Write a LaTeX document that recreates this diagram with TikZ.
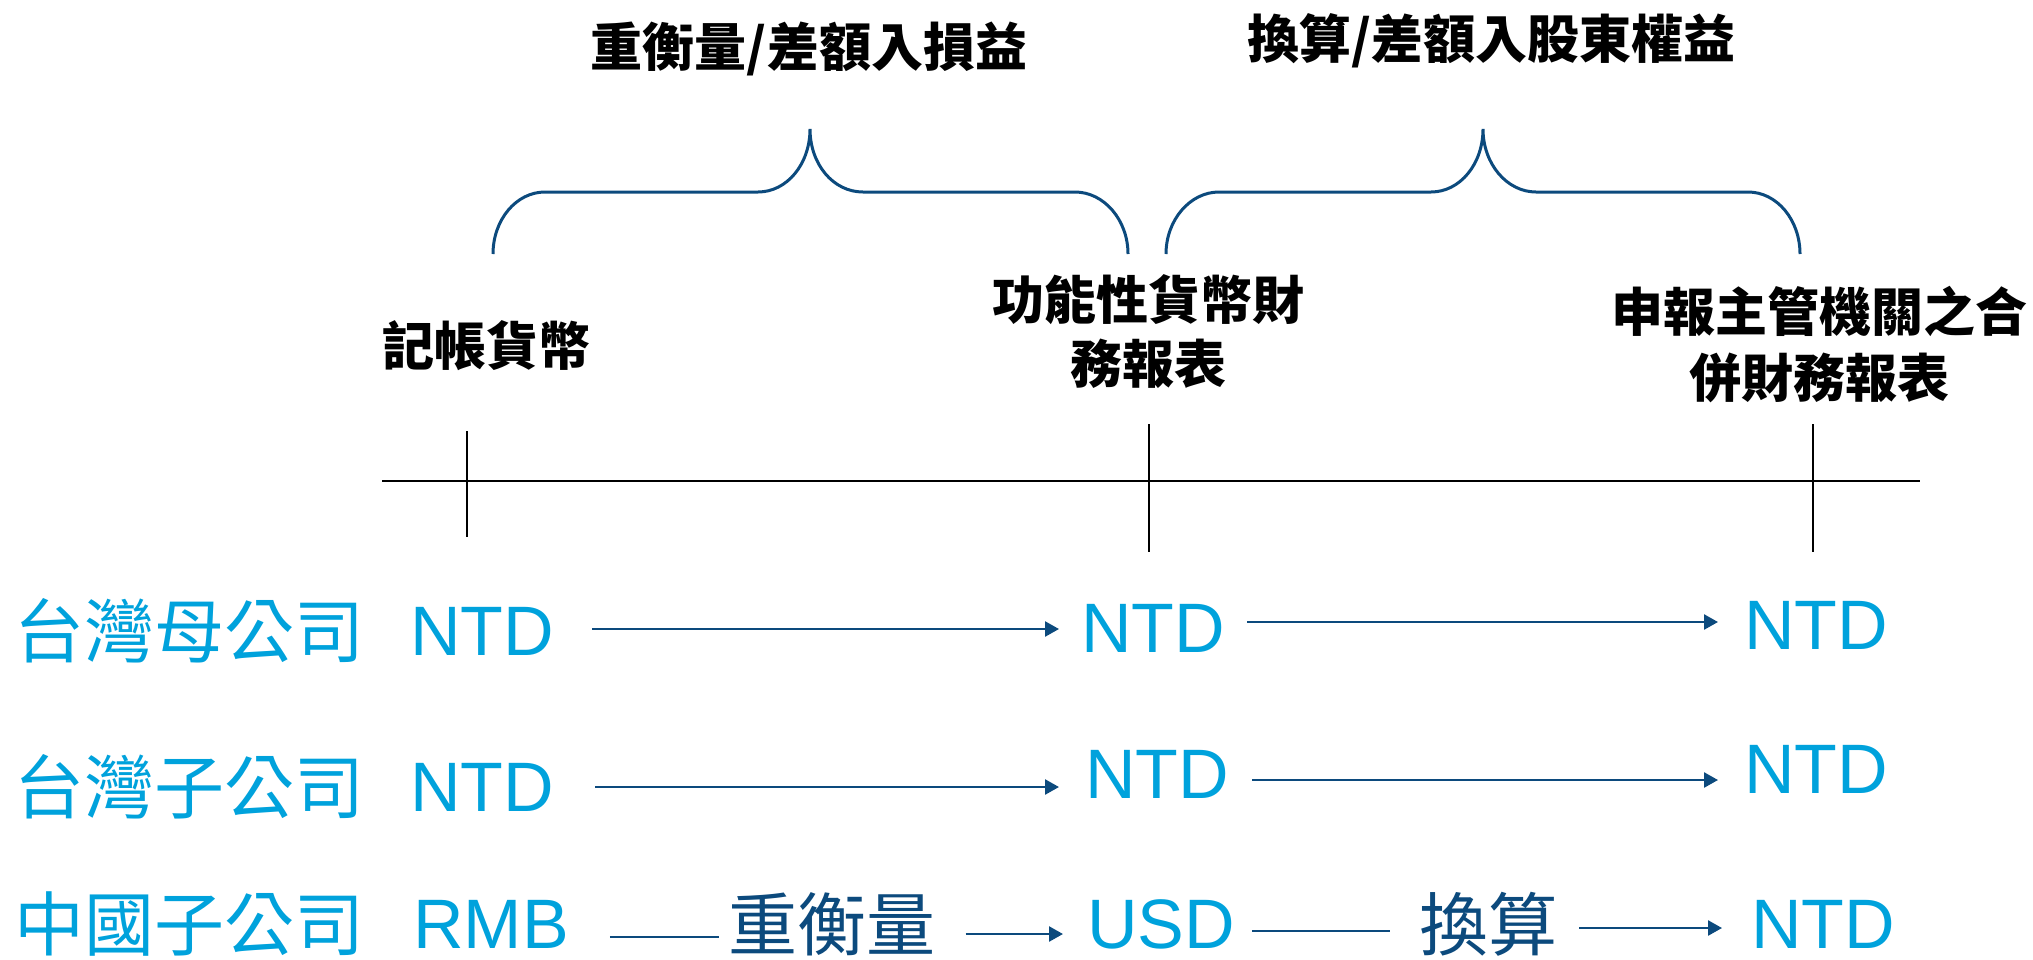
\documentclass[tikz,border=0pt]{standalone}
\usepackage{fontspec}
\usetikzlibrary{arrows.meta}
\setmainfont{Liberation Sans}
\newfontfamily\cjk{Noto Sans CJK TC}
\definecolor{lblue}{RGB}{0,162,220}
\definecolor{dblue}{RGB}{12,74,125}
\tikzset{
  head/.style={inner sep=0pt, font=\cjk\bfseries\fontsize{52}{64}\selectfont, text=black, align=center},
  comp/.style={inner sep=0pt, anchor=west, font=\cjk\fontsize{70}{80}\selectfont, text=lblue},
  cur/.style={inner sep=0pt, anchor=west, font=\fontsize{70}{80}\selectfont, text=lblue},
  op/.style={inner sep=0pt, font=\cjk\fontsize{69}{80}\selectfont, text=dblue},
  arr/.style={draw=dblue, line width=2.5pt, -{Triangle[length=14pt,width=15pt]}},
  plain/.style={draw=dblue, line width=2.5pt},
  brace/.style={draw=dblue, line width=3pt},
  axis/.style={draw=black, line width=2pt}
}
\begin{document}
\begin{tikzpicture}[x=1pt,y=-1pt]
\useasboundingbox (0,0) rectangle (2033,959);
% titles
\node[head] (t1) at (809,49) {重衡量/差額入損益};
\node[head] (t2) at (1491,41) {換算/差額入股東權益};
% braces
\draw[brace] (493,254) .. controls (493,220) and (516,192) .. (545,192) -- (758,192)
  .. controls (787,192) and (810,164) .. (810,129)
  .. controls (810,164) and (833,192) .. (863,192) -- (1075,192)
  .. controls (1104,192) and (1128,220) .. (1128,254);
\draw[brace] (1166,254) .. controls (1166,220) and (1190,192) .. (1219,192) -- (1431,192)
  .. controls (1460,192) and (1483,164) .. (1483,129)
  .. controls (1483,164) and (1507,192) .. (1536,192) -- (1748,192)
  .. controls (1777,192) and (1800,220) .. (1800,254);
% column headers
\node[head] (h1) at (486,346) {記帳貨幣};
\node[head] (h2) at (1148,332) {功能性貨幣財\\務報表};
\node[head, font=\cjk\bfseries\fontsize{52}{66}\selectfont] (h3) at (1819,345) {申報主管機關之合\\併財務報表};
% timeline
\coordinate (axl) at (382,481);
\coordinate (axr) at (1920,481);
\draw[axis] (axl) -- (axr);
\coordinate (k1a) at (467,431); \coordinate (k1b) at (467,537);
\coordinate (k2a) at (1149,424); \coordinate (k2b) at (1149,552);
\coordinate (k3a) at (1813,424); \coordinate (k3b) at (1813,552);
\draw[axis] (k1a) -- (k1b);
\draw[axis] (k2a) -- (k2b);
\draw[axis] (k3a) -- (k3b);
% row 1
\node[comp] (c1) at (14,631) {台灣母公司};
\node[cur] (r11) at (410,631) {NTD};
\node[cur] (r12) at (1081,628) {NTD};
\node[cur] (r13) at (1744,625) {NTD};
\draw[arr] ([xshift=38pt,yshift=2pt]r11.east) -- ([xshift=-22pt,yshift=2pt]r11.east -| r12.west);
\draw[arr] ([xshift=22pt,yshift=6pt]r12.east) -- ([xshift=-26pt,yshift=6pt]r12.east -| r13.west);
% row 2
\node[comp] (c2) at (14,787) {台灣子公司};
\node[cur] (r21) at (410,787) {NTD};
\node[cur] (r22) at (1085,774) {NTD};
\node[cur] (r23) at (1744,769) {NTD};
\draw[arr] ([xshift=41pt]r21.east) -- ([xshift=-26pt]r21.east -| r22.west);
\draw[arr] ([xshift=23pt,yshift=-6pt]r22.east) -- ([xshift=-26pt,yshift=-6pt]r22.east -| r23.west);
% row 3
\node[comp] (c3) at (14,924) {中國子公司};
\node[cur] (r31) at (413,924) {RMB};
\node[op] (o1) at (832,924) {重衡量};
\node[cur] (r32) at (1087,924) {USD};
\node[op] (o2) at (1488,924) {換算};
\node[cur] (r33) at (1751,924) {NTD};
\draw[plain] ([xshift=41pt,yshift=-13pt]r31.east) -- ([xshift=-9pt,yshift=-13pt]r31.east -| o1.west);
\draw[arr] ([xshift=30pt,yshift=-10pt]o1.east) -- ([xshift=-24pt,yshift=-10pt]o1.east -| r32.west);
\draw[plain] ([xshift=17pt,yshift=-7pt]r32.east) -- ([xshift=-29pt,yshift=-7pt]r32.east -| o2.west);
\draw[arr] ([xshift=22pt,yshift=-4pt]o2.east) -- ([xshift=-29pt,yshift=-4pt]o2.east -| r33.west);
\end{tikzpicture}
\end{document}
